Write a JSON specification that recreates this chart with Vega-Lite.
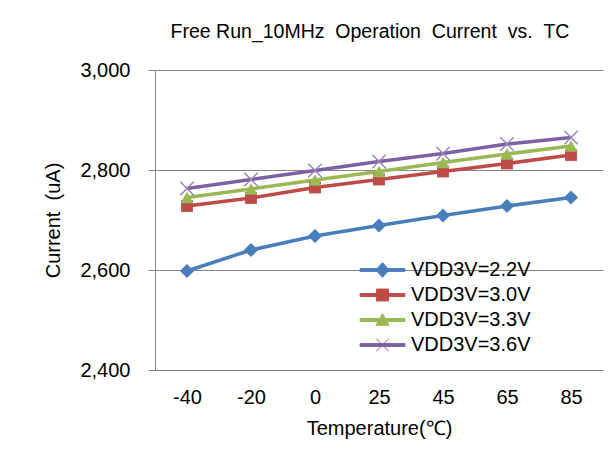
{
  "$schema": "https://vega.github.io/schema/vega-lite/v6.json",
  "width": 448,
  "height": 300,
  "autosize": {"type": "none"},
  "padding": {"left": 155, "top": 70, "right": 7, "bottom": 98},
  "background": "white",
  "title": {
    "text": "Free Run_10MHz\u00a0\u00a0Operation\u00a0\u00a0Current\u00a0\u00a0vs.\u00a0\u00a0TC",
    "font": "Liberation Sans",
    "fontSize": 19.5,
    "fontWeight": "normal",
    "color": "#000000",
    "anchor": "middle",
    "offset": 18,
    "dx": -9
  },
  "config": {
    "view": {"stroke": null},
    "font": "Liberation Sans",
    "axis": {
      "labelFont": "Liberation Sans",
      "titleFont": "Liberation Sans",
      "labelFontSize": 20,
      "titleFontSize": 20,
      "labelColor": "#000000",
      "titleColor": "#000000",
      "titleFontWeight": "normal",
      "domainColor": "#868686",
      "tickColor": "#868686",
      "gridColor": "#868686",
      "gridOpacity": 1
    }
  },
  "data": {
    "values": [
      {"temp": -40, "series": "VDD3V=2.2V", "current": 2598},
      {"temp": -20, "series": "VDD3V=2.2V", "current": 2640},
      {"temp": 0, "series": "VDD3V=2.2V", "current": 2668},
      {"temp": 25, "series": "VDD3V=2.2V", "current": 2689},
      {"temp": 45, "series": "VDD3V=2.2V", "current": 2709},
      {"temp": 65, "series": "VDD3V=2.2V", "current": 2728},
      {"temp": 85, "series": "VDD3V=2.2V", "current": 2745},
      {"temp": -40, "series": "VDD3V=3.0V", "current": 2728},
      {"temp": -20, "series": "VDD3V=3.0V", "current": 2744},
      {"temp": 0, "series": "VDD3V=3.0V", "current": 2765},
      {"temp": 25, "series": "VDD3V=3.0V", "current": 2781},
      {"temp": 45, "series": "VDD3V=3.0V", "current": 2797},
      {"temp": 65, "series": "VDD3V=3.0V", "current": 2813},
      {"temp": 85, "series": "VDD3V=3.0V", "current": 2830},
      {"temp": -40, "series": "VDD3V=3.3V", "current": 2745},
      {"temp": -20, "series": "VDD3V=3.3V", "current": 2762},
      {"temp": 0, "series": "VDD3V=3.3V", "current": 2780},
      {"temp": 25, "series": "VDD3V=3.3V", "current": 2797},
      {"temp": 45, "series": "VDD3V=3.3V", "current": 2815},
      {"temp": 65, "series": "VDD3V=3.3V", "current": 2832},
      {"temp": 85, "series": "VDD3V=3.3V", "current": 2848},
      {"temp": -40, "series": "VDD3V=3.6V", "current": 2763},
      {"temp": -20, "series": "VDD3V=3.6V", "current": 2781},
      {"temp": 0, "series": "VDD3V=3.6V", "current": 2799},
      {"temp": 25, "series": "VDD3V=3.6V", "current": 2817},
      {"temp": 45, "series": "VDD3V=3.6V", "current": 2833},
      {"temp": 65, "series": "VDD3V=3.6V", "current": 2852},
      {"temp": 85, "series": "VDD3V=3.6V", "current": 2865}
    ]
  },
  "encoding": {
    "x": {
      "field": "temp",
      "type": "ordinal",
      "scale": {"type": "point", "padding": 0.5},
      "axis": {
        "title": "Temperature(℃)",
        "labelAngle": 0,
        "ticks": false,
        "labelPadding": 17,
        "titlePadding": 11,
        "domainColor": "#868686"
      }
    },
    "y": {
      "field": "current",
      "type": "quantitative",
      "scale": {"domain": [2400, 3000], "nice": false, "zero": false},
      "axis": {
        "title": "Current\u00a0\u00a0(uA)",
        "values": [2400, 2600, 2800, 3000],
        "format": ",d",
        "tickSize": 7,
        "labelPadding": 18,
        "titlePadding": 16,
        "grid": true
      }
    },
    "color": {
      "field": "series",
      "type": "nominal",
      "scale": {
        "domain": ["VDD3V=2.2V", "VDD3V=3.0V", "VDD3V=3.3V", "VDD3V=3.6V"],
        "range": ["#4A7EBB", "#BE4B48", "#98B954", "#7D60A0"]
      },
      "legend": {
        "title": null,
        "orient": "none",
        "legendX": 217.5,
        "legendY": 190,
        "padding": 0,
        "symbolSize": 196,
        "labelOffset": 18.5,
        "rowPadding": 5,
        "labelFont": "Liberation Sans",
        "labelFontSize": 20,
        "labelColor": "#000000",
        "labelLimit": 300,
        "encode": {
          "symbols": {
            "update": {
              "fill": {"scale": "color", "field": "value"},
              "stroke": {"scale": "color", "field": "value"},
              "strokeWidth": {"value": 1},
              "fillOpacity": {"value": 1},
              "strokeOpacity": {"value": 1},
              "opacity": {"value": 1},
              "shape": {
                "signal": "datum.value === 'VDD3V=2.2V' ? 'M-3.2,-0.2H3.2V0.2H-3.2Z M0,-1.05L0.95,0L0,1.05L-0.95,0Z' : datum.value === 'VDD3V=3.0V' ? 'M-3.2,-0.2H3.2V0.2H-3.2Z M-0.85,-0.85H0.85V0.85H-0.85Z' : datum.value === 'VDD3V=3.3V' ? 'M-3.2,-0.2H3.2V0.2H-3.2Z M0,-0.9L0.95,0.75H-0.95Z' : 'M-3.2,-0.2H3.2V0.2H-3.2Z M-0.9,-0.9L0.9,0.9M-0.9,0.9L0.9,-0.9'"
              }
            }
          }
        }
      }
    }
  },
  "layer": [
    {
      "mark": {"type": "line", "strokeWidth": 3.5},
      "encoding": {}
    },
    {
      "transform": [{"filter": "datum.series === 'VDD3V=2.2V'"}],
      "mark": {"type": "point", "shape": "diamond", "size": 200, "filled": true, "opacity": 1}
    },
    {
      "transform": [{"filter": "datum.series === 'VDD3V=3.0V'"}],
      "mark": {"type": "point", "shape": "square", "size": 140, "filled": true, "opacity": 1}
    },
    {
      "transform": [{"filter": "datum.series === 'VDD3V=3.3V'"}],
      "mark": {"type": "point", "shape": "triangle-up", "size": 170, "filled": true, "opacity": 1}
    },
    {
      "transform": [{"filter": "datum.series === 'VDD3V=3.6V'"}],
      "mark": {"type": "point", "shape": "M-1,-1L1,1M-1,1L1,-1", "size": 180, "filled": false, "strokeWidth": 1.5, "opacity": 1},
      "encoding": {"stroke": {"value": "#9A84BE"}}
    }
  ]
}
